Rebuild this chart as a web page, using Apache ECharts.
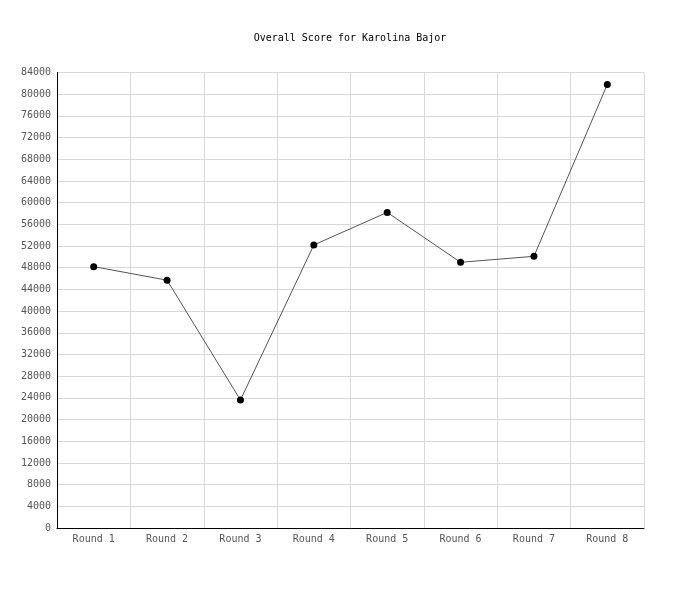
<!DOCTYPE html>
<html>
<head>
<meta charset="utf-8">
<script src="https://cdn.jsdelivr.net/npm/echarts@6/dist/echarts.min.js"></script>
<style>html,body{margin:0;padding:0;background:#fff}#c{width:700px;height:600px}</style>
</head>
<body>
<div id="c"></div>
<script>
const titleText = 'Overall Score for Karolina Bajor';
const categories = ['Round 1','Round 2','Round 3','Round 4','Round 5','Round 6','Round 7','Round 8'];
const scores = [48200, 45700, 23600, 52200, 58200, 49000, 50100, 81800];
const yMin = 0, yMax = 84000, yStep = 4000;

const chart = echarts.init(document.getElementById('c'));
const font = '"DejaVu Sans Mono", "Liberation Mono", monospace';
chart.setOption({
  animation: false,
  backgroundColor: '#fff',
  title: {
    text: titleText, left: 'center', top: 28,
    textStyle: {fontFamily: font, fontSize: 10, fontWeight: 'normal', color: '#000'}
  },
  grid: {left: 57, right: 56, top: 72.5, bottom: 72},
  xAxis: {
    type: 'category', data: categories, boundaryGap: true,
    axisLine: {lineStyle: {color: '#000', width: 1}},
    axisTick: {show: false},
    axisLabel: {fontFamily: font, fontSize: 10, color: '#555', margin: 6},
    splitLine: {show: true, lineStyle: {color: '#d8d8d8', width: 1}}
  },
  yAxis: {
    type: 'value', min: yMin, max: yMax, interval: yStep,
    axisLine: {show: true, lineStyle: {color: '#000', width: 1}},
    axisTick: {show: false},
    axisLabel: {fontFamily: font, fontSize: 10, color: '#555', margin: 6,
      formatter: function (v) { return String(v); }},
    splitLine: {show: true, lineStyle: {color: '#d8d8d8', width: 1}}
  },
  series: [{
    type: 'line', data: scores,
    symbol: 'circle', symbolSize: 7,
    itemStyle: {color: '#000'},
    lineStyle: {color: '#555', width: 1}
  }]
});
</script>
</body>
</html>
